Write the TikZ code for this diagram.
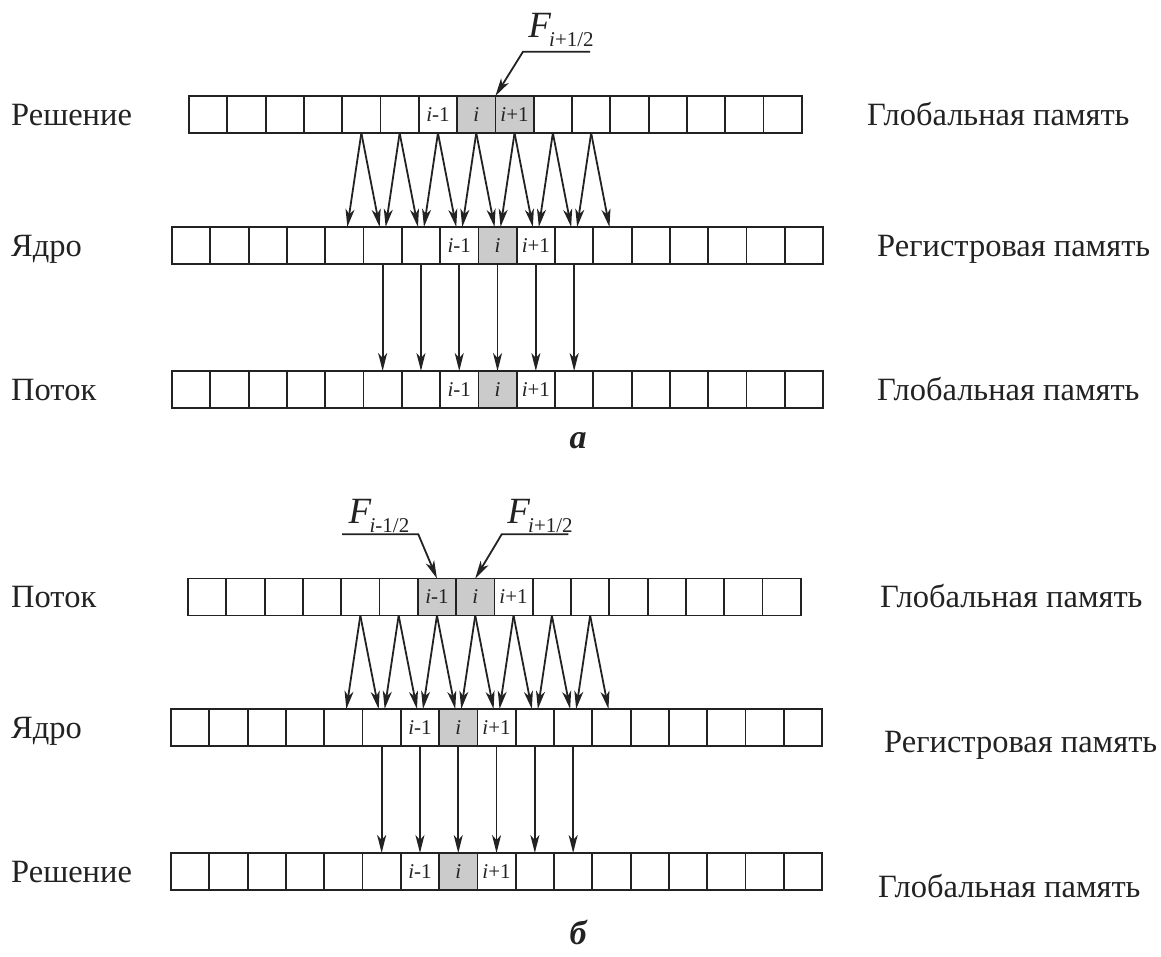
\documentclass[tikz,border=0pt]{standalone}
\usepackage{fontspec}
\setmainfont{Liberation Serif}
\usepackage{tikz}
\usetikzlibrary{arrows.meta,calc,positioning}
\definecolor{fig-ink}{HTML}{222222}
\definecolor{fig-shade}{HTML}{CBCBCB}

\newcommand{\cellprev}{\textit{i}-1}
\newcommand{\cellnext}{\textit{i}+1}
\newcommand{\fluxlab}[1]{\textit{F}\kern-2pt\raisebox{-9pt}{\fontsize{21}{22}\selectfont\textit{i}#1}}

\tikzset{
  cell/.style={draw=fig-ink,line width=1.8pt,minimum width=38.3pt,minimum height=37pt,inner sep=0pt,outer sep=0pt},
  celltext/.style={inner sep=0pt,text=fig-ink,font=\fontsize{21}{22}\selectfont},
  flow/.style={-{Stealth[length=18pt,width=9pt,inset=5pt]},line width=1.8pt,draw=fig-ink},
  sidelabel/.style={anchor=base west,inner sep=0pt,text=fig-ink,font=\fontsize{32.5}{36}\selectfont},
  flabel/.style={anchor=base,inner sep=0pt,text=fig-ink,font=\fontsize{37}{40}\selectfont},
  partlabel/.style={anchor=base,inner sep=0pt,text=fig-ink,font=\fontsize{34}{36}\selectfont\bfseries\itshape}
}

\begin{document}
\begin{tikzpicture}[>=Stealth,x=1pt,y=-1pt]
  \useasboundingbox (0,0) rectangle (1161,956);

  % Celle-raekker
  \foreach \r/\x/\y/\n/\g/\h in {a1/189/114.5/15/7/8, a2/172/245.5/16/8/-1, a3/172/389.5/16/8/-1,
                                 b1/188/597/15/6/7, b2/171/727.5/16/7/-1, b3/171/871.5/16/7/-1} {
    \foreach \k in {0,...,\n} {
      \pgfmathtruncatemacro\pct{100*or(\k==\g,\k==\h)}
      \node[cell,fill=fig-shade!\pct!white] (\r-\k) at ({\x+19.15+38.3*\k},\y) {};
    }
  }

  % Indeks i cellerne
  \foreach \r/\p in {a1/6, a2/7, a3/7, b1/6, b2/6, b3/6} {
    \pgfmathtruncatemacro\q{\p+1}
    \pgfmathtruncatemacro\s{\p+2}
    \node[celltext] (\r-prev) at (\r-\p) {\cellprev};
    \node[celltext] (\r-cur) at (\r-\q) {\textit{i}};
    \node[celltext] (\r-next) at (\r-\s) {\cellnext};
  }

  % Skraa pile mellem raekkerne
  \foreach \src/\dst in {a1/a2, b1/b2} {
    \foreach \c [evaluate=\c as \d using int(\c+1)] in {4,...,10} {
      \draw[flow] (\src-\c.south) -- ($(\dst-\c.north)+(3,0)$);
      \draw[flow] (\src-\c.south) -- ($(\dst-\d.north)+(-3,0)$);
    }
  }

  % Lodrette pile
  \foreach \src/\dst in {a2/a3, b2/b3}
    \foreach \c in {5,...,10}
      \draw[flow] (\src-\c.south) -- (\dst-\c.north);

  % Fluks-henvisninger
  \coordinate (Fa-end) at (590,51.7);
  \coordinate (Fa-knee) at (523,51.7);
  \draw[flow] (Fa-end) -- (Fa-knee) -- (a1-7.north east);
  \node[flabel] (Fa) at (561,37) {\fluxlab{+1/2}};

  \coordinate (Fbl-end) at (342,534.3);
  \coordinate (Fbl-knee) at (418.3,534.3);
  \draw[flow] (Fbl-end) -- (Fbl-knee) -- (b1-6.north);
  \node[flabel] (Fbl) at (379,523) {\fluxlab{-1/2}};

  \coordinate (Fbr-end) at (568.3,534.3);
  \coordinate (Fbr-knee) at (501.7,534.3);
  \draw[flow] (Fbr-end) -- (Fbr-knee) -- (b1-7.north);
  \node[flabel] (Fbr) at (540,523) {\fluxlab{+1/2}};

  % Navne til venstre
  \node[sidelabel] (la1) at (11,125) {Решение};
  \node[sidelabel] (la2) at (11,256) {Ядро};
  \node[sidelabel] (la3) at (11,400) {Поток};
  \node[sidelabel] (lb1) at (11,607.5) {Поток};
  \node[sidelabel] (lb2) at (11,738) {Ядро};
  \node[sidelabel] (lb3) at (11,882) {Решение};

  % Hukommelse til hoejre
  \node[sidelabel] (ra1) at (867,125) {Глобальная память};
  \node[sidelabel] (ra2) at (877,256) {Регистровая память};
  \node[sidelabel] (ra3) at (877,400) {Глобальная память};
  \node[sidelabel] (rb1) at (880,607.5) {Глобальная память};
  \node[sidelabel] (rb2) at (884,752) {Регистровая память};
  \node[sidelabel] (rb3) at (878,897) {Глобальная память};

  % Delfigurer
  \node[partlabel] (pa) at (578,448) {а};
  \node[partlabel] (pb) at (578,944) {б};
\end{tikzpicture}
\end{document}
